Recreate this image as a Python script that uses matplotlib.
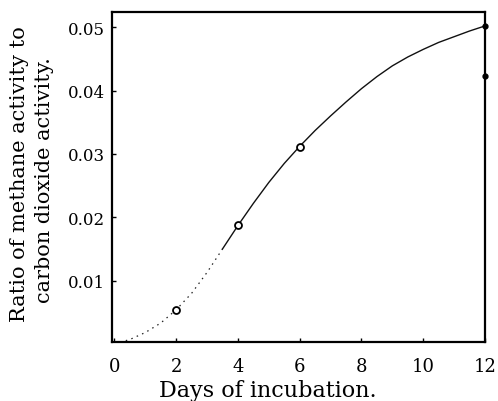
import matplotlib
matplotlib.use("Agg")
import matplotlib.pyplot as plt

# Smooth curve
curve_days = [0, 0.5, 1, 1.5, 2, 2.5, 3, 3.5, 4, 4.5, 5, 5.5, 6, 6.5, 7, 7.5, 8, 8.5, 9, 9.5, 10, 10.5, 11, 11.5, 12]
curve_ratio = [0.0000, 0.0007, 0.0018, 0.0033, 0.0054, 0.0080, 0.0113, 0.0150, 0.0187, 0.0222,
               0.0255, 0.0285, 0.0312, 0.0337, 0.0360, 0.0382, 0.0403, 0.0422, 0.0439, 0.0453,
               0.0465, 0.0476, 0.0485, 0.0494, 0.0502]
dotted_until = 3.5  # curve is dotted up to here, solid afterwards

# Measured points
open_days = [2, 4, 6]
open_ratio = [0.0054, 0.0187, 0.0311]
filled_days = [12, 12]
filled_ratio = [0.0502, 0.0423]

x_ticks = [0, 2, 4, 6, 8, 10, 12]
x_ticklabels = ["0", "2", "4", "6", "8", "10", "12"]
y_ticks = [0.01, 0.02, 0.03, 0.04, 0.05]
y_ticklabels = ["0.01", "0.02", "0.03", "0.04", "0.05"]

plt.rcParams['font.family'] = ['DejaVu Serif']

fig = plt.figure(figsize=(4.98, 4.02), dpi=100)
ax = fig.add_axes([112/498, (402-343)/402, (485-112)/498, (343-13)/402])

dot_x = [x for x in curve_days if x <= dotted_until]
dot_y = curve_ratio[:len(dot_x)]
sol_x = curve_days[len(dot_x)-1:]
sol_y = curve_ratio[len(dot_x)-1:]
ax.plot(dot_x, dot_y, color='#222222', lw=0.9, linestyle=(0, (1.2, 3.5)))
ax.plot(sol_x, sol_y, color='#111111', lw=1.0)

ax.plot(open_days, open_ratio, 'o', ms=5, mfc='white', mec='black', mew=1.3, clip_on=False, zorder=5)
ax.plot(filled_days, filled_ratio, 'o', ms=3.5, color='black', clip_on=False, zorder=5)

ax.set_xlim(-0.08, 12)
ax.set_ylim(0.0003, 0.0524)
ax.set_xticks(x_ticks)
ax.set_xticklabels(x_ticklabels, fontsize=13)
ax.set_yticks(y_ticks)
ax.set_yticklabels(y_ticklabels, fontsize=12)
ax.tick_params(axis='both', direction='in', length=3, width=1.0, color='black')
ax.tick_params(axis='x', pad=11)
ax.tick_params(axis='y', pad=5)
for s in ax.spines.values():
    s.set_linewidth(1.6)

fig.text(268/498, 5/402, "Days of incubation.", ha='center', va='baseline', fontsize=16)
fig.text(20/498, (402-174)/402, "Ratio of methane activity to", rotation=90, ha='center', va='center', fontsize=15)
fig.text(44/498, (402-180)/402, "carbon dioxide activity.", rotation=90, ha='center', va='center', fontsize=15)

fig.savefig("out.png", dpi=100)
